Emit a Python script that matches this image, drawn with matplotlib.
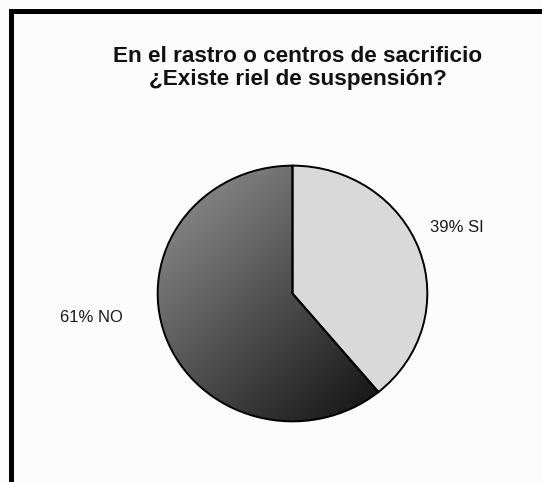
import matplotlib.pyplot as plt
import matplotlib.patches as mpatches
import numpy as np

plt.rcParams['font.family'] = ['Liberation Sans', 'DejaVu Sans']

title = "En el rastro o centros de sacrificio\n¿Existe riel de suspensión?"
categorias = ["SI", "NO"]
porcentajes = [39, 61]

fig = plt.figure(figsize=(5.42, 4.82), dpi=100)
fig.patch.set_facecolor('#fcfcfc')

# marco negro arriba y a la izquierda
fig.add_artist(mpatches.Rectangle((9 / 542, 0), 5 / 542, 1 - 9 / 482,
                                  transform=fig.transFigure, color='black', lw=0))
fig.add_artist(mpatches.Rectangle((9 / 542, 1 - 14 / 482), 1, 5 / 482,
                                  transform=fig.transFigure, color='black', lw=0))

fig.text(298 / 542, 1 - 68 / 482, title, ha='center', va='center',
         fontsize=16.2, fontweight='bold', color='#111111', linespacing=1.12)

ax = fig.add_axes([157 / 542, 60 / 482, 271 / 542, 257 / 482])
wedges, _ = ax.pie(porcentajes, startangle=90, counterclock=False,
                   colors=['#d9d9d9', 'none'],
                   wedgeprops=dict(edgecolor='black', linewidth=1.4))
ax.set_aspect('auto')
ax.set_xlim(-1.005, 1.005)
ax.set_ylim(-1.005, 1.005)
ax.axis('off')

# degradado del sector NO (claro arriba a la izquierda, oscuro abajo a la derecha)
gx, gy = np.meshgrid(np.linspace(-1, 1, 300), np.linspace(1, -1, 300))
grad = np.clip(0.5 - 0.143 * (gx - gy + 1.4), 0.06, 0.55)
img = ax.imshow(grad, extent=(-1, 1, -1, 1), cmap='gray', vmin=0, vmax=1,
                zorder=0.5, aspect='auto')
img.set_clip_path(wedges[1])
wedges[1].set_zorder(1)

# etiquetas
fig.text(457 / 542, 1 - 227 / 482, f"{porcentajes[0]}% {categorias[0]}",
         ha='center', va='center', fontsize=12, color='#1a1a1a')
fig.text(91 / 542, 1 - 317 / 482, f"{porcentajes[1]}% {categorias[1]}",
         ha='center', va='center', fontsize=12, color='#1a1a1a')

fig.savefig('out.png', dpi=100, facecolor=fig.get_facecolor())
